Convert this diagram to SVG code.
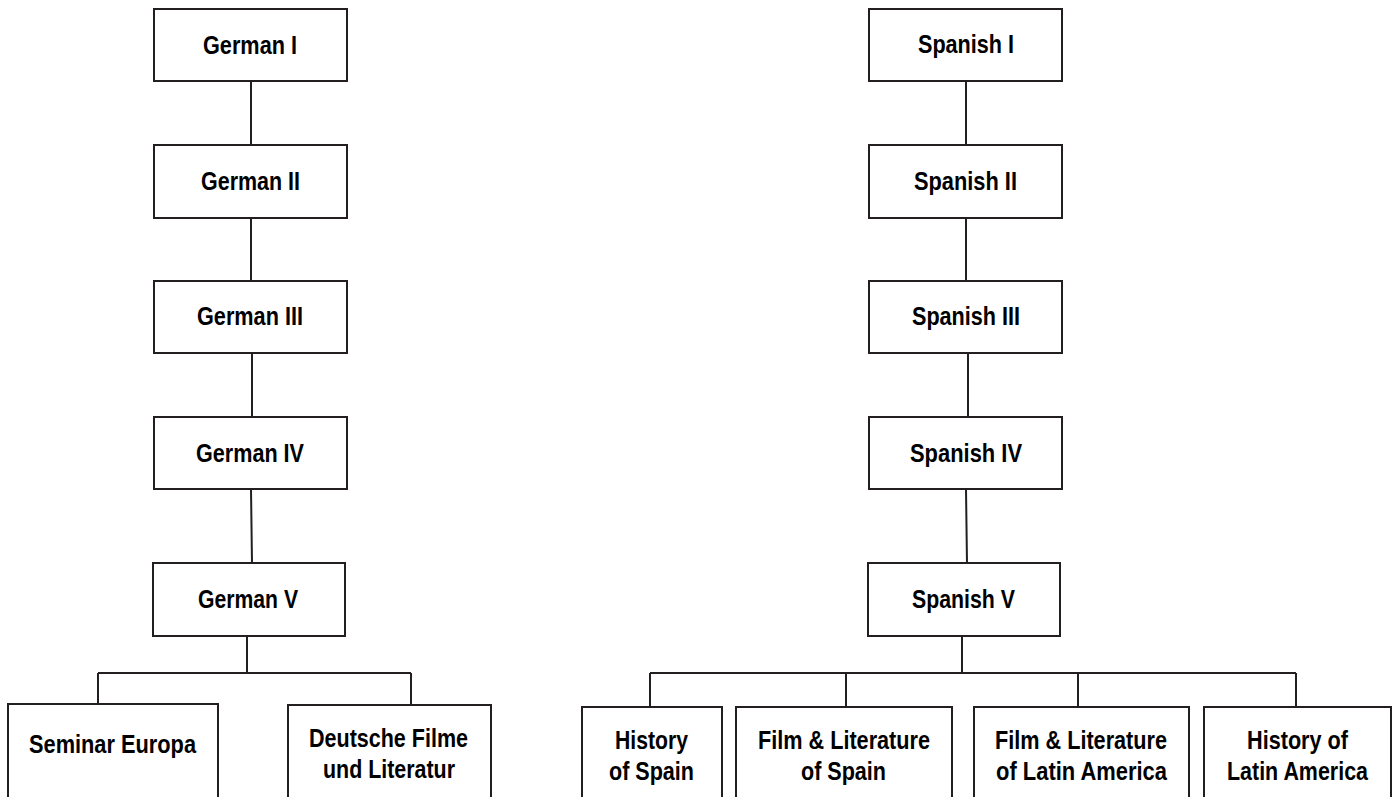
<svg xmlns="http://www.w3.org/2000/svg" width="1398" height="797" viewBox="0 0 1398 797">
<style>
.box{fill:#fff;stroke:#231f20;stroke-width:2}
.con{fill:none;stroke:#231f20;stroke-width:2}
text{font-family:"Liberation Sans",Arial,sans-serif;font-weight:bold;font-size:25px;fill:#000;text-anchor:middle}
</style>
<rect width="1398" height="797" fill="#fff"/>
<g id="connectors">
<path class="con" d="M251,81V145M251,218V281M252,353V417M251,489L252,563M247,636V673M98,673H411M98,673V704M411,673V705"/>
<path class="con" d="M966,81V145M966,218V281M968,353V417M966,489L967,563M962,636V673M650,673H1296M650,673V707M846,673V707M1078,673V707M1296,673V707"/>
</g>
<g id="german1"><rect class="box" x="154" y="9" width="193" height="72"/><text x="250" y="54" textLength="94" lengthAdjust="spacingAndGlyphs">German I</text></g>
<g id="german2"><rect class="box" x="154" y="145" width="193" height="73"/><text x="250.5" y="190" textLength="99" lengthAdjust="spacingAndGlyphs">German II</text></g>
<g id="german3"><rect class="box" x="154" y="281" width="193" height="72"/><text x="250" y="325" textLength="106" lengthAdjust="spacingAndGlyphs">German III</text></g>
<g id="german4"><rect class="box" x="154" y="417" width="193" height="72"/><text x="250" y="462" textLength="108" lengthAdjust="spacingAndGlyphs">German IV</text></g>
<g id="german5"><rect class="box" x="153" y="563" width="192" height="73"/><text x="248" y="608" textLength="100" lengthAdjust="spacingAndGlyphs">German V</text></g>
<g id="seminar-europa"><rect class="box" x="8" y="704" width="210" height="100"/><text x="112.5" y="753" textLength="167" lengthAdjust="spacingAndGlyphs">Seminar Europa</text></g>
<g id="deutsche-filme"><rect class="box" x="288" y="705" width="203" height="100"/><text x="388.5" y="747" textLength="159" lengthAdjust="spacingAndGlyphs">Deutsche Filme</text><text x="389" y="778" textLength="132" lengthAdjust="spacingAndGlyphs">und Literatur</text></g>
<g id="spanish1"><rect class="box" x="869" y="9" width="193" height="72"/><text x="966" y="53" textLength="96" lengthAdjust="spacingAndGlyphs">Spanish I</text></g>
<g id="spanish2"><rect class="box" x="869" y="145" width="193" height="73"/><text x="965.5" y="190" textLength="103" lengthAdjust="spacingAndGlyphs">Spanish II</text></g>
<g id="spanish3"><rect class="box" x="869" y="281" width="193" height="72"/><text x="966" y="325" textLength="108" lengthAdjust="spacingAndGlyphs">Spanish III</text></g>
<g id="spanish4"><rect class="box" x="869" y="417" width="193" height="72"/><text x="966" y="462" textLength="112" lengthAdjust="spacingAndGlyphs">Spanish IV</text></g>
<g id="spanish5"><rect class="box" x="868" y="563" width="192" height="73"/><text x="963.5" y="608" textLength="103" lengthAdjust="spacingAndGlyphs">Spanish V</text></g>
<g id="history-spain"><rect class="box" x="582" y="707" width="140" height="100"/><text x="651.5" y="749" textLength="73" lengthAdjust="spacingAndGlyphs">History</text><text x="651.5" y="780" textLength="85" lengthAdjust="spacingAndGlyphs">of Spain</text></g>
<g id="film-lit-spain"><rect class="box" x="736" y="707" width="216" height="100"/><text x="844" y="749" textLength="172" lengthAdjust="spacingAndGlyphs">Film &amp; Literature</text><text x="843.5" y="780" textLength="85" lengthAdjust="spacingAndGlyphs">of Spain</text></g>
<g id="film-lit-latam"><rect class="box" x="974" y="707" width="215" height="100"/><text x="1081" y="749" textLength="172" lengthAdjust="spacingAndGlyphs">Film &amp; Literature</text><text x="1081.5" y="780" textLength="171" lengthAdjust="spacingAndGlyphs">of Latin America</text></g>
<g id="history-latam"><rect class="box" x="1204" y="707" width="187" height="100"/><text x="1297.5" y="749" textLength="101" lengthAdjust="spacingAndGlyphs">History of</text><text x="1297.5" y="780" textLength="141" lengthAdjust="spacingAndGlyphs">Latin America</text></g>
</svg>
